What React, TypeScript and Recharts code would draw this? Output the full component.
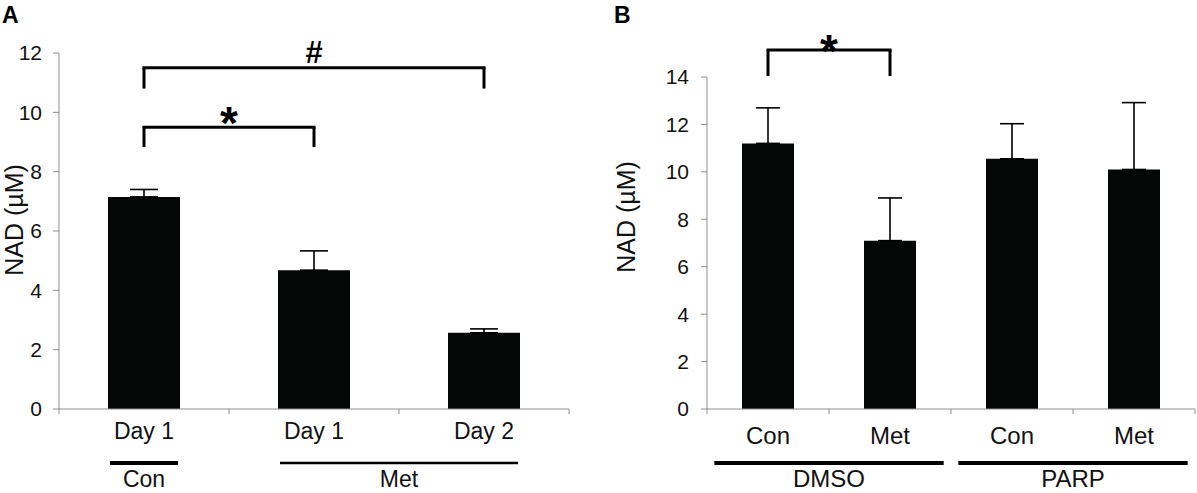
import React from 'react';
import { BarChart, Bar, XAxis, YAxis, ErrorBar, ReferenceLine, Label } from 'recharts';

const FONT = '"Liberation Sans", Arial, Helvetica, sans-serif';

// Panel A: NAD after metformin, by day
const aKeys = ['conDay1', 'metDay1', 'metDay2'];
const aLabels = ['Day 1', 'Day 1', 'Day 2'];
const aValues = [7.15, 4.68, 2.57];
const aErrors = [0.25, 0.65, 0.13];
const aTicks = [0, 2, 4, 6, 8, 10, 12];
const aGroups = [
  { name: 'Con', from: 0, to: 0 },
  { name: 'Met', from: 1, to: 2 },
];
const aBrackets = [
  { from: 'conDay1', to: 'metDay2', y: 11.5, leg: 10.8, mark: '#' },
  { from: 'conDay1', to: 'metDay1', y: 9.5, leg: 8.83, mark: '*' },
];

// Panel B: DMSO vs PARP inhibitor
const bKeys = ['dmsoCon', 'dmsoMet', 'parpCon', 'parpMet'];
const bLabels = ['Con', 'Met', 'Con', 'Met'];
const bValues = [11.2, 7.1, 10.55, 10.1];
const bErrors = [1.5, 1.8, 1.48, 2.82];
const bTicks = [0, 2, 4, 6, 8, 10, 12, 14];
const bGroups = [
  { name: 'DMSO', from: 0, to: 1 },
  { name: 'PARP', from: 2, to: 3 },
];
const bBrackets = [{ from: 'dmsoCon', to: 'dmsoMet', y: 15.14, leg: 14.04, mark: '*' }];

const AXIS = '#8f8f8f';
const INK = '#111';

type Group = { name: string; from: number; to: number };
type Bracket = { from: string; to: string; y: number; leg: number; mark: string };

interface PanelProps {
  letter: string;
  left: number;
  width: number;
  height: number;
  margin: { top: number; right: number; bottom: number; left: number };
  yAxisWidth: number;
  xAxisHeight: number;
  keys: string[];
  labels: string[];
  values: number[];
  errors: number[];
  ticks: number[];
  groups: Group[];
  brackets: Bracket[];
  barSize: number;
  capWidth: number;
  tickMargin: number;
  catFont: number;
  catTop: number;
  groupFont: number;
  groupLineY: number;
  groupTextY: number;
  groupInset: number;
  groupStroke: number[];
  yLabelGap: number;
  yLabelDy: number;
  yLabelFont: number;
  starDy: number;
}

const Panel = (p: PanelProps) => {
  const data = p.keys.map((k, i) => ({ key: k, value: p.values[i], err: [0, p.errors[i]] }));
  const plotLeft = p.margin.left + p.yAxisWidth;
  const plotWidth = p.width - plotLeft - p.margin.right;
  const plotHeight = p.height - p.margin.top - p.margin.bottom - p.xAxisHeight;
  const band = plotWidth / p.keys.length;
  const inset = band * p.groupInset;

  const renderTick = (t: any) => {
    const { x, y, index } = t;
    const group = p.groups.findIndex((g) => g.from === index);
    const g = p.groups[group];
    const x1 = x - band / 2 + inset;
    const x2 = g ? x + (g.to - g.from) * band + band / 2 - inset : 0;
    return (
      <g>
        <line x1={x - band / 2} x2={x - band / 2} y1={y} y2={y + 5} stroke={AXIS} />
        {index === p.keys.length - 1 && (
          <line x1={x + band / 2} x2={x + band / 2} y1={y} y2={y + 5} stroke={AXIS} />
        )}
        <text x={x} y={y + p.catTop} dy="0.71em" textAnchor="middle" fontSize={p.catFont} fontFamily={FONT} fill={INK}>
          {p.labels[index]}
        </text>
        {g && (
          <g>
            <line x1={x1} x2={x2} y1={y + p.groupLineY} y2={y + p.groupLineY} stroke="#000" strokeWidth={p.groupStroke[group]} />
            <text
              x={x - band / 2 + ((g.to - g.from + 1) * band) / 2}
              y={y + p.groupTextY}
              textAnchor="middle"
              fontSize={p.groupFont}
              fontFamily={FONT}
              fill={INK}
            >
              {g.name}
            </text>
          </g>
        )}
      </g>
    );
  };

  const renderYLabel = () => {
    const cx = plotLeft - p.yLabelGap;
    const cy = p.margin.top + plotHeight / 2 + p.yLabelDy;
    return (
      <text
        x={cx}
        y={cy}
        transform={`rotate(-90 ${cx} ${cy})`}
        textAnchor="middle"
        dominantBaseline="central"
        fontSize={p.yLabelFont}
        fontFamily={FONT}
        fill={INK}
      >
        NAD (µM)
      </text>
    );
  };

  const markLabel = (mark: string) => (lp: any) => {
    const vb = lp.viewBox;
    if (!vb) return null;
    const isStar = mark === '*';
    return (
      <text
        x={vb.x + vb.width / 2}
        y={vb.y + (isStar ? p.starDy : -5)}
        textAnchor="middle"
        fontSize={isStar ? 46 : 31}
        fontWeight="bold"
        fontFamily={FONT}
        fill="#000"
      >
        {mark}
      </text>
    );
  };

  const yMax = p.ticks[p.ticks.length - 1];

  return (
    <div style={{ position: 'absolute', left: p.left, top: 0, width: p.width, height: p.height }}>
      <div style={{ position: 'absolute', left: plotLeft - p.yLabelGap - 12, top: 4, fontFamily: FONT, fontWeight: 'bold', fontSize: 23, lineHeight: 1, color: '#000' }}>
        {p.letter}
      </div>
      <BarChart width={p.width} height={p.height} data={data} margin={p.margin} barCategoryGap={0}>
        <XAxis
          dataKey="key"
          height={p.xAxisHeight}
          interval={0}
          tickSize={0}
          tickMargin={0}
          tickLine={false}
          axisLine={{ stroke: AXIS }}
          tick={renderTick}
        />
        <YAxis
          width={p.yAxisWidth}
          domain={[0, yMax]}
          ticks={p.ticks}
          interval={0}
          tickSize={6}
          tickMargin={p.tickMargin}
          axisLine={{ stroke: AXIS }}
          tickLine={{ stroke: AXIS }}
          tick={{ fill: INK, fontSize: 21, fontFamily: FONT }}
        >
          <Label content={renderYLabel} />
        </YAxis>
        <Bar dataKey="value" fill="#050707" barSize={p.barSize} isAnimationActive={false}>
          <ErrorBar dataKey="err" width={p.capWidth} stroke="#000" strokeWidth={1.6} direction="y" isAnimationActive={false} />
        </Bar>
        {p.brackets.map((b, i) => (
          <ReferenceLine
            key={`h${i}`}
            segment={[{ x: b.from, y: b.y }, { x: b.to, y: b.y }]}
            stroke="#000"
            strokeWidth={3}
            strokeLinecap="square"
            ifOverflow="visible"
            label={markLabel(b.mark)}
          />
        ))}
        {p.brackets.map((b, i) => (
          <ReferenceLine
            key={`l${i}`}
            segment={[{ x: b.from, y: b.y }, { x: b.from, y: b.leg }]}
            stroke="#000"
            strokeWidth={3}
            ifOverflow="visible"
          />
        ))}
        {p.brackets.map((b, i) => (
          <ReferenceLine
            key={`r${i}`}
            segment={[{ x: b.to, y: b.y }, { x: b.to, y: b.leg }]}
            stroke="#000"
            strokeWidth={3}
            ifOverflow="visible"
          />
        ))}
      </BarChart>
    </div>
  );
};

const App = () => (
  <div style={{ position: 'absolute', left: 0, top: 0, width: 1197, height: 493, background: '#fff', overflow: 'hidden' }}>
    <Panel
      letter="A"
      left={0}
      width={600}
      height={493}
      margin={{ top: 53, right: 31, bottom: 0, left: 19 }}
      yAxisWidth={40}
      xAxisHeight={84}
      keys={aKeys}
      labels={aLabels}
      values={aValues}
      errors={aErrors}
      ticks={aTicks}
      groups={aGroups}
      brackets={aBrackets}
      barSize={72}
      capWidth={14}
      tickMargin={11}
      catFont={23}
      catTop={14}
      groupFont={23}
      groupLineY={54}
      groupTextY={78}
      groupInset={0.3}
      groupStroke={[4, 2.5]}
      yLabelGap={45}
      yLabelDy={-11}
      yLabelFont={25}
      starDy={12}
    />
    <Panel
      letter="B"
      left={600}
      width={597}
      height={493}
      margin={{ top: 77, right: 2, bottom: 0, left: 47 }}
      yAxisWidth={60}
      xAxisHeight={84}
      keys={bKeys}
      labels={bLabels}
      values={bValues}
      errors={bErrors}
      ticks={bTicks}
      groups={bGroups}
      brackets={bBrackets}
      barSize={52}
      capWidth={12}
      tickMargin={12}
      catFont={24}
      catTop={18}
      groupFont={24}
      groupLineY={54}
      groupTextY={78}
      groupInset={0.06}
      groupStroke={[4, 4]}
      yLabelGap={81}
      yLabelDy={-26}
      yLabelFont={25}
      starDy={17}
    />
  </div>
);

export default App;
